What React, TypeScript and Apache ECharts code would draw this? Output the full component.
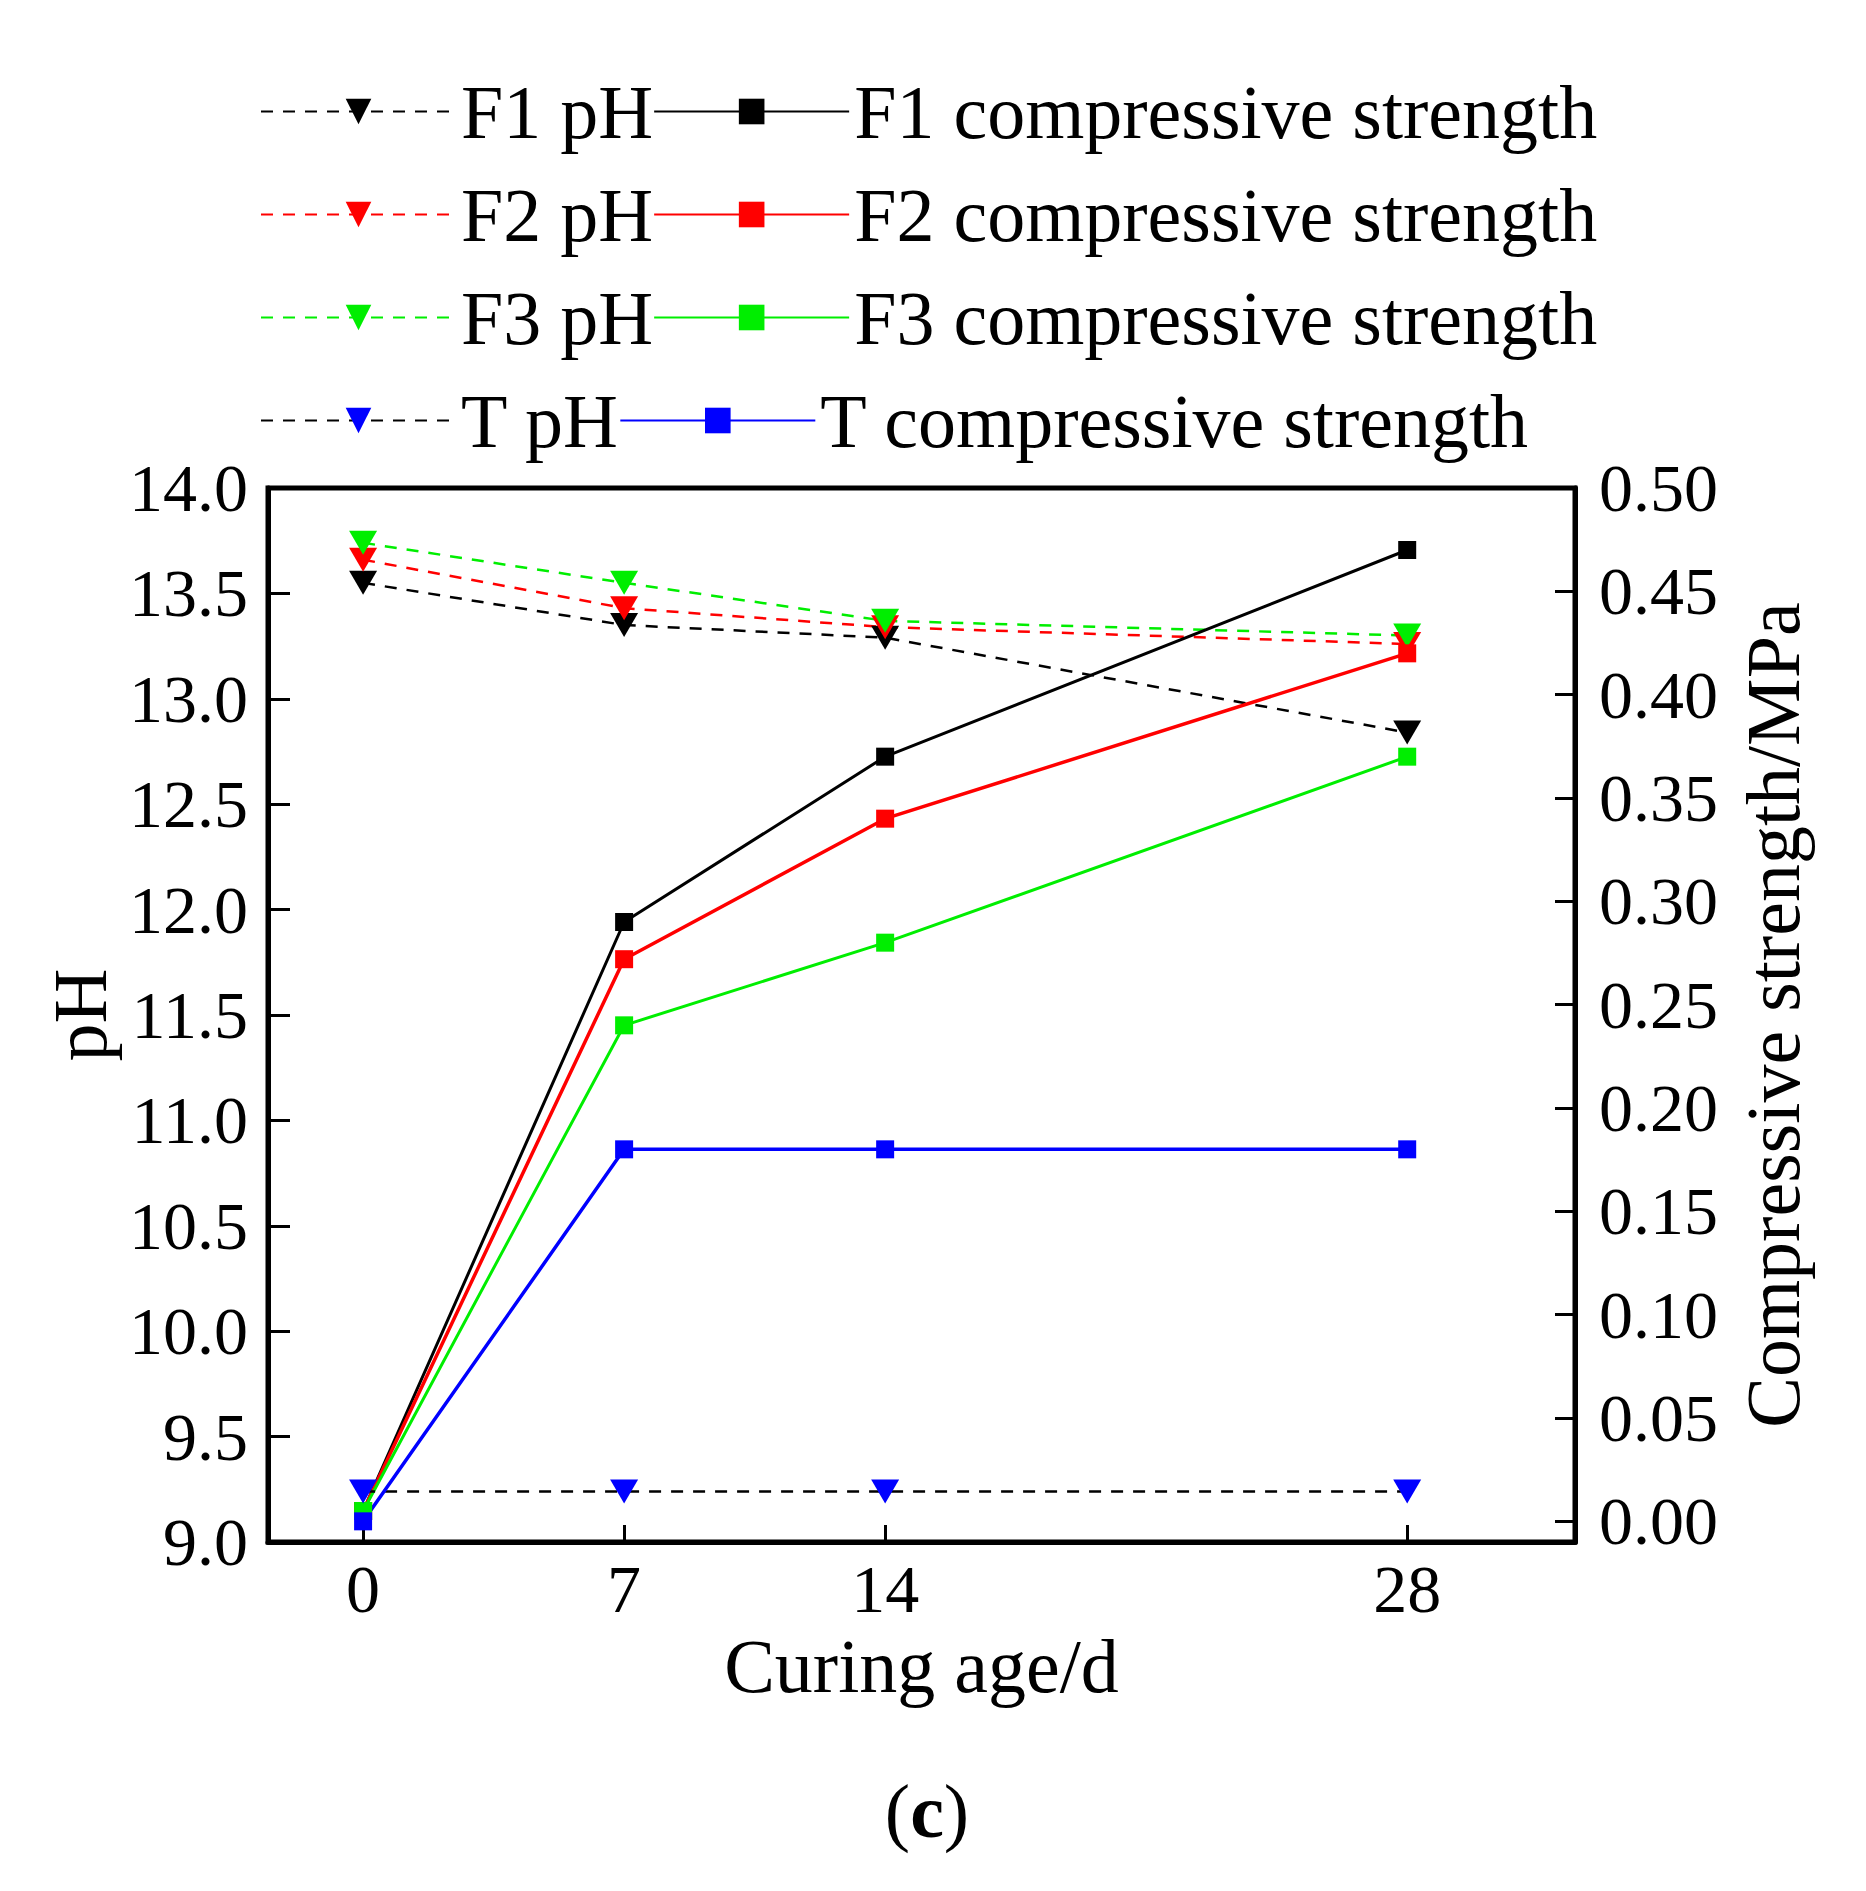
import React, { useEffect, useRef } from 'react';
import * as echarts from 'echarts';

// curing age (days) and tick values
const days = [0, 7, 14, 28];
const phTicks = [9, 9.5, 10, 10.5, 11, 11.5, 12, 12.5, 13, 13.5, 14];
const strengthTicks = [0, 0.05, 0.1, 0.15, 0.2, 0.25, 0.3, 0.35, 0.4, 0.45, 0.5];

// pH readings
const f1Ph = [13.55, 13.35, 13.29, 12.84];
const f2Ph = [13.66, 13.43, 13.34, 13.26];
const f3Ph = [13.74, 13.55, 13.37, 13.3];
const tPh = [9.24, 9.24, 9.24, 9.24];

// compressive strength (MPa)
const f1Strength = [0.005, 0.29, 0.37, 0.47];
const f2Strength = [0.005, 0.272, 0.34, 0.42];
const f3Strength = [0.005, 0.24, 0.28, 0.37];
const tStrength = [0, 0.18, 0.18, 0.18];

const FONT = 'Liberation Serif';
const TRIANGLE = 'path://M0,0L20,0L10,17Z'; // pointing down

const phSeries = (name: string, values: number[], lineColor: string, markColor: string) => ({
  name,
  type: 'line',
  yAxisIndex: 0,
  data: days.map((d, i) => [d, values[i]]),
  symbol: TRIANGLE,
  symbolSize: [28, 24],
  lineStyle: { color: lineColor, width: 2.5, type: [12, 10] },
  itemStyle: { color: markColor },
});

const strengthSeries = (name: string, values: number[], color: string, width: number) => ({
  name,
  type: 'line',
  yAxisIndex: 1,
  data: days.map((d, i) => [d, values[i]]),
  symbol: 'rect',
  symbolSize: 18,
  lineStyle: { color, width },
  itemStyle: { color },
});

const App: React.FC = () => {
  const chartRef = useRef<HTMLDivElement>(null);

  useEffect(() => {
    const chart = echarts.init(chartRef.current!, null, { renderer: 'svg' });

    const labelStyle = { fontFamily: FONT, fontSize: 68, color: '#000' };
    const nameStyle = { fontFamily: FONT, fontSize: 76, color: '#000' };

    const options = {
      animation: false,
      backgroundColor: '#fff',
      legend: {
        left: 252,
        top: 52,
        width: 1440,
        padding: 0,
        itemGap: 0,
        itemWidth: 195,
        itemHeight: 32,
        textStyle: { fontFamily: FONT, fontSize: 76, color: '#000', lineHeight: 103 },
        data: [
          'F1 pH', 'F1 compressive strength',
          'F2 pH', 'F2 compressive strength',
          'F3 pH', 'F3 compressive strength',
          'T pH', 'T compressive strength',
        ],
      },
      grid: {
        left: 260,
        top: 480,
        width: 1307,
        height: 1054,
        show: true,
        borderColor: '#000',
        borderWidth: 5,
        backgroundColor: 'transparent',
      },
      xAxis: {
        type: 'value',
        min: -2.55,
        max: 32.5,
        splitLine: { show: false },
        axisLine: { onZero: false, lineStyle: { color: '#000', width: 5 } },
        axisTick: { inside: true, length: 17, customValues: days, lineStyle: { color: '#000', width: 3 } },
        axisLabel: { ...labelStyle, margin: 13, customValues: days },
        name: 'Curing age/d',
        nameLocation: 'middle',
        nameGap: 80,
        nameTextStyle: nameStyle,
      },
      yAxis: [
        {
          type: 'value',
          position: 'left',
          min: 9,
          max: 14,
          splitLine: { show: false },
          axisLine: { show: true, onZero: false, lineStyle: { color: '#000', width: 5 } },
          axisTick: { inside: true, length: 22, customValues: phTicks, lineStyle: { color: '#000', width: 3 } },
          axisLabel: {
            ...labelStyle,
            margin: 20,
            customValues: phTicks,
            formatter: (v: number) => v.toFixed(1),
          },
          name: 'pH',
          nameLocation: 'middle',
          nameRotate: 90,
          nameGap: 150,
          nameTextStyle: nameStyle,
        },
        {
          type: 'value',
          position: 'right',
          min: -0.01,
          max: 0.5,
          splitLine: { show: false },
          axisLine: { show: true, onZero: false, lineStyle: { color: '#000', width: 5 } },
          axisTick: { inside: true, length: 20, customValues: strengthTicks, lineStyle: { color: '#000', width: 3 } },
          axisLabel: {
            ...labelStyle,
            margin: 24,
            customValues: strengthTicks,
            formatter: (v: number) => v.toFixed(2),
          },
          name: 'Compressive strength/MPa',
          nameLocation: 'middle',
          nameRotate: 90,
          nameGap: 160,
          nameTextStyle: nameStyle,
        },
      ],
      graphic: [
        {
          type: 'text',
          x: 919,
          y: 1803,
          style: {
            text: '({b|c})',
            fontFamily: FONT,
            fontSize: 76,
            fill: '#000',
            align: 'center',
            verticalAlign: 'middle',
            rich: { b: { fontFamily: FONT, fontSize: 76, fontWeight: 'bold' } },
          },
        },
      ],
      series: [
        phSeries('F1 pH', f1Ph, '#000', '#000'),
        phSeries('F2 pH', f2Ph, '#ff0000', '#ff0000'),
        phSeries('F3 pH', f3Ph, '#00ee00', '#00ee00'),
        strengthSeries('F1 compressive strength', f1Strength, '#000', 3),
        strengthSeries('F2 compressive strength', f2Strength, '#ff0000', 3.5),
        strengthSeries('F3 compressive strength', f3Strength, '#00ee00', 3),
        phSeries('T pH', tPh, '#000', '#0000ff'),
        strengthSeries('T compressive strength', tStrength, '#0000ff', 3.5),
      ],
    };

    chart.setOption(options);

    return () => {
      chart.dispose();
    };
  }, []);

  return <div ref={chartRef} style={{ width: '1850px', height: '1875px' }} />;
};

export default App;
